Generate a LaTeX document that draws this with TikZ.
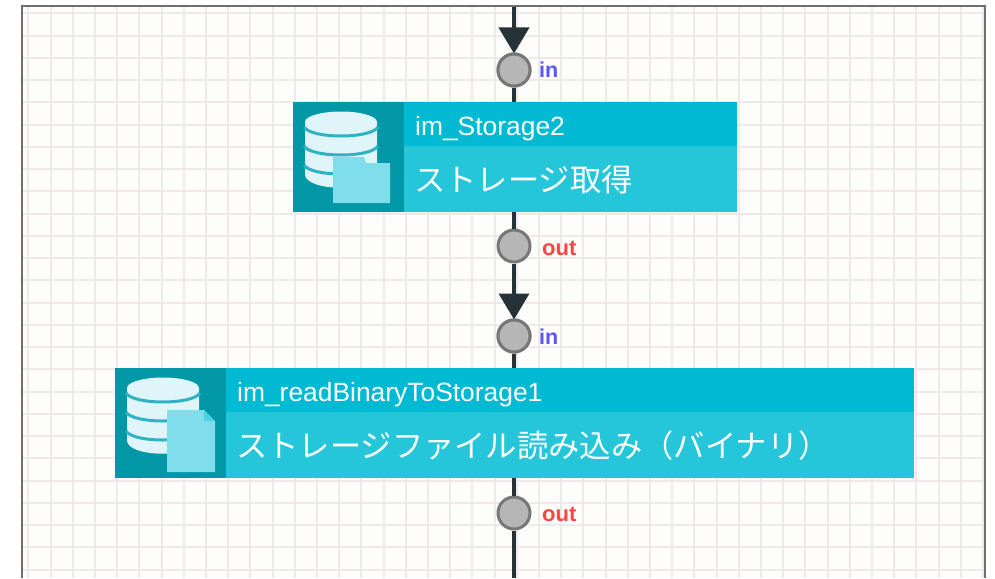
\documentclass[tikz,border=0pt]{standalone}
\usepackage{fontspec}
\setmainfont{Liberation Sans}
\newfontfamily\jpfont{Noto Sans CJK JP}
\usetikzlibrary{arrows.meta}
\definecolor{gridc}{HTML}{EFEAE9}
\definecolor{paper}{HTML}{FDFEFC}
\definecolor{framec}{HTML}{6E6E6E}
\definecolor{iconbg}{HTML}{0097A7}
\definecolor{hdrc}{HTML}{00BAD4}
\definecolor{bodyc}{HTML}{26C6DA}
\definecolor{dbc}{HTML}{DFF5FA}
\definecolor{dbline}{HTML}{2FB2C2}
\definecolor{paperc}{HTML}{80DEEA}
\definecolor{foldc}{HTML}{4DD0E1}
\definecolor{linec}{HTML}{263238}
\definecolor{portfill}{HTML}{B6B6B6}
\definecolor{portline}{HTML}{777777}
\definecolor{inc}{HTML}{5A55FF}
\definecolor{outc}{HTML}{FF4545}
\tikzset{
  iconbox/.style={draw=none,fill=iconbg,minimum width=111pt,minimum height=110pt,inner sep=0pt,anchor=north west},
  hdrbox/.style={draw=none,fill=hdrc,text=white,minimum height=44pt,anchor=north west,inner ysep=0pt,inner xsep=11pt,align=left,text height=22pt,text depth=0pt,font=\fontsize{26.4}{28}\selectfont},
  bodybox/.style={draw=none,fill=bodyc,text=white,minimum height=66pt,anchor=north west,inner ysep=0pt,inner xsep=10pt,align=left,text height=27pt,text depth=3pt,font=\jpfont\fontsize{31.3}{34}\selectfont},
  port/.style={circle,draw=portline,fill=portfill,line width=3pt,minimum size=32pt,inner sep=0pt},
  wire/.style={draw=linec,line width=4pt},
  inlabel/.style={text=inc,font=\bfseries\fontsize{21.5}{23}\selectfont,anchor=west,inner sep=0pt},
  outlabel/.style={text=outc,font=\bfseries\fontsize{22}{24}\selectfont,anchor=west,inner sep=0pt},
  dbstack/.pic={
    \fill[dbc] (-36,0) -- (-36,53) .. controls (-34,70) and (34,70) .. (36,53) -- (36,0) -- cycle;
    \foreach \dy in {24,43}
      \draw[dbline,line width=3pt] (-37,\dy) .. controls (-30,\dy+12) and (30,\dy+12) .. (37,\dy);
    \fill[dbc] (0,0) circle [x radius=36pt,y radius=10.5pt];
    \draw[dbline,line width=3pt] (-37,5) .. controls (-30,17) and (30,17) .. (37,5);
  },
}
\begin{document}
\begin{tikzpicture}[x=1pt,y=-1pt]
\useasboundingbox (0,0) rectangle (995,578);
\fill[white] (0,0) rectangle (995,578);
\fill[paper] (22,6) rectangle (985,578);
\begin{scope}
\clip (22,6) rectangle (985,578);
\foreach \k in {0,...,43} \draw[gridc,line width=2pt] ({28.3+22.2*\k},6) -- ({28.3+22.2*\k},578);
\foreach \k in {0,...,25} \draw[gridc,line width=2pt] (22,{13.3+22.25*\k}) -- (985,{13.3+22.25*\k});
\end{scope}
\draw[framec,line width=2pt] (22,578) -- (22,6) -- (985,6) -- (985,578);

% ports
\node[port] (p1) at (514,70) {};
\node[port] (p2) at (514,246) {};
\node[port] (p3) at (514,336) {};
\node[port] (p4) at (514,513) {};
\coordinate (topend) at (514,7);
\coordinate (botend) at (514,578);

% box 1
\node[iconbox] (icon1) at (293,102) {};
\node[hdrbox,text width=311pt] (head1) at (404,102) {im\_Storage2};
\node[bodybox,text width=313pt] (body1) at (404,146) {ストレージ取得};
% box 2
\node[iconbox] (icon2) at (115,368) {};
\node[hdrbox,text width=666pt] (head2) at (226,368) {im\_readBinaryToStorage1};
\node[bodybox,text width=668pt] (body2) at (226,412) {ストレージファイル読み込み（バイナリ）};

% connectors
\path[wire] (p1.south) -- (head1.north -| p1);
\path[wire] (body1.south -| p2) -- (p2.north);
\path[wire] (p3.south) -- (head2.north -| p3);
\path[wire] (body2.south -| p4) -- (p4.north);
\path[wire] (p4.south) -- (botend);
\path[wire,-{Triangle[length=26pt,width=30pt]}] (topend) -- ([yshift=-1pt]p1.north);
\path[wire,-{Triangle[length=26pt,width=30pt]}] (p2.south) -- ([yshift=-1pt]p3.north);
\node[port] at (p1) {};
\node[port] at (p3) {};

% labels
\node[inlabel] (l1) at (539,70) {in};
\node[outlabel] (l2) at (542,248) {out};
\node[inlabel] (l3) at (539,337) {in};
\node[outlabel] (l4) at (542,514) {out};

% icons
\pic at (341,122) {dbstack};
\fill[paperc] (333,203) -- (333,157) -- (364,157) -- (366,163) -- (390,163) -- (390,203) -- cycle;
\pic at (163,388) {dbstack};
\fill[paperc] (167,472) -- (167,410) -- (204,410) -- (215,421) -- (215,472) -- cycle;
\fill[foldc] (204,410) -- (215,421) -- (204,421) -- cycle;
\end{tikzpicture}
\end{document}
